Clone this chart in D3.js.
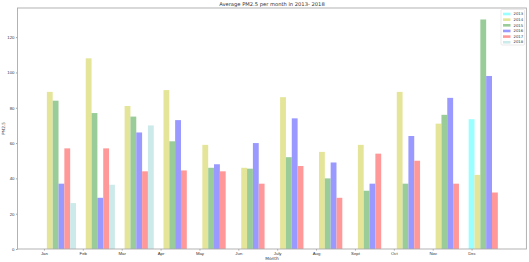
<!DOCTYPE html>
<html>
<head>
<meta charset="utf-8">
<script src="https://cdn.jsdelivr.net/npm/d3@7"></script>
<style>
  body { margin: 0; background: #fff; }
  svg { display: block; font-family: "DejaVu Sans", sans-serif; }
</style>
</head>
<body>
<main></main>
<script>
const months = ["Jan", "Feb", "Mar", "Apr", "May", "Jun", "July", "Aug", "Sept", "Oct", "Nov", "Dec"]
const years = ["2013", "2014", "2015", "2016", "2017", "2018"]
const yTicks = [0, 20, 40, 60, 80, 100, 120]

// values per year, Jan..Dec (0 = no data)
const pm2013 = [0, 0, 0, 0, 0, 0, 0, 0, 0, 0, 0, 73.5]
const pm2014 = [89, 108, 81, 90, 59, 46, 86, 55, 59, 89, 71, 42]
const pm2015 = [84, 77, 75, 61, 46, 45.5, 52, 40, 33, 37, 76, 130]
const pm2016 = [37, 29, 66, 73, 48, 60, 74, 49, 37, 64, 85.6, 98]
const pm2017 = [57, 57, 44, 44.5, 44, 37, 47, 29, 54, 50, 37, 32]
const pm2018 = [26, 36.4, 70, 0, 0, 0, 0, 0, 0, 0, 0, 0]

const series = [pm2013, pm2014, pm2015, pm2016, pm2017, pm2018]
const colors = ["#99ffff", "#e5e599", "#99cc99", "#9999ff", "#ff9999", "#cdeaea"]

const w = 529
const h = 262
const mLeft = 17.5
const mRight = 526.4
const mTop = 8
const mBottom = 249
const barW = 0.15

const xScale = d3.scaleLinear().domain([-0.68, 12.41]).range([mLeft, mRight])
const yScale = d3.scaleLinear().domain([0, 136.5]).range([mBottom, mTop])

const svg = d3.select("main").append("svg").attr("width", w).attr("height", h)

// bars
series.forEach((vals, i) => {
  svg.append("g")
    .selectAll("rect")
    .data(vals)
    .enter()
    .append("rect")
    .attr("x", (d, m) => xScale(m + i * barW - barW / 2))
    .attr("width", xScale(barW) - xScale(0))
    .attr("y", (d) => yScale(d))
    .attr("height", (d) => yScale(0) - yScale(d))
    .attr("fill", colors[i])
})

// axes
const xAxis = d3.axisBottom(xScale)
  .tickValues(d3.range(months.length))
  .tickFormat((d) => months[d])
  .tickSize(1.5)
  .tickPadding(1.5)
const yAxis = d3.axisLeft(yScale)
  .tickValues(yTicks)
  .tickSize(1.5)
  .tickPadding(1.5)

const gx = svg.append("g").attr("transform", `translate(0, ${mBottom})`).call(xAxis)
const gy = svg.append("g").attr("transform", `translate(${mLeft}, 0)`).call(yAxis)
;[gx, gy].forEach((g) => {
  g.select(".domain").remove()
  g.selectAll("line").attr("stroke", "#666").attr("stroke-width", 0.6)
  g.selectAll("text").attr("font-size", 4.3).attr("fill", "#333")
})

// frame
svg.append("rect")
  .attr("x", mLeft).attr("y", mTop)
  .attr("width", mRight - mLeft).attr("height", mBottom - mTop)
  .attr("fill", "none").attr("stroke", "#aaa").attr("stroke-width", 0.9)

// title and labels
svg.append("text")
  .attr("x", (mLeft + mRight) / 2).attr("y", 6.2)
  .attr("text-anchor", "middle").attr("font-size", 5.2).attr("fill", "#333")
  .text("Average PM2.5 per month in 2013- 2018")

svg.append("text")
  .attr("x", (mLeft + mRight) / 2).attr("y", 260)
  .attr("text-anchor", "middle").attr("font-size", 4.3).attr("fill", "#333")
  .text("Month")

svg.append("text")
  .attr("transform", `translate(5, ${(mTop + mBottom) / 2}) rotate(-90)`)
  .attr("text-anchor", "middle").attr("font-size", 4.3).attr("fill", "#333")
  .text("PM2.5")

// legend
const legend = svg.append("g").attr("transform", "translate(501, 9.5)")
legend.append("rect")
  .attr("width", 23.5).attr("height", 35.5).attr("rx", 1)
  .attr("fill", "#fff").attr("stroke", "#ddd").attr("stroke-width", 0.6)

const item = legend.selectAll(".item")
  .data(years)
  .enter()
  .append("g")
  .attr("transform", (d, i) => `translate(2, ${3.2 + i * 5.65})`)
item.append("rect")
  .attr("width", 7.5).attr("height", 2.6)
  .attr("fill", (d, i) => colors[i])
item.append("text")
  .attr("x", 10.5).attr("y", 2.5)
  .attr("font-size", 3.8).attr("fill", "#333")
  .text((d) => d)
</script>
</body>
</html>
